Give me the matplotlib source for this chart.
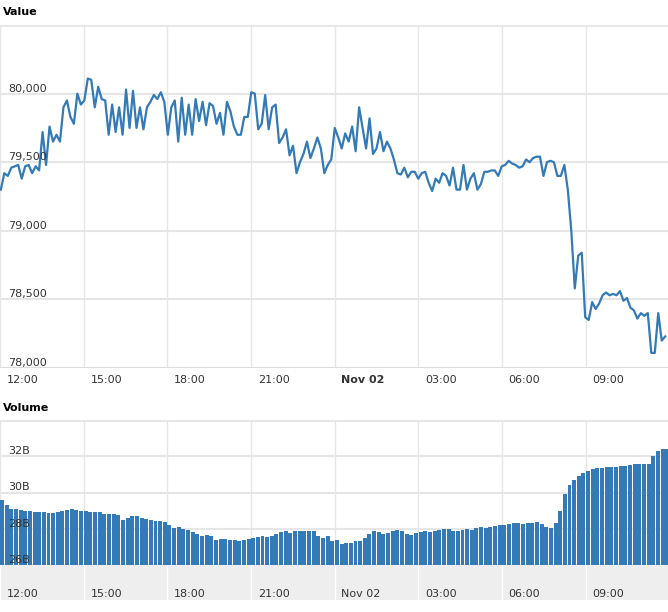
import matplotlib
matplotlib.use("Agg")
import matplotlib.pyplot as plt
import numpy as np

price = [79300,79420,79400,79460,79470,
 79480,79380,79470,79480,79420,79470,
 79440,79720,79480,79760,79650,79700,
 79650,79900,79950,79830,79780,80000,79920,
 79950,80110,80100,79900,80050,79960,79950,
 79700,79920,79720,79900,79700,80030,79750,80020,79750,79900,79740,79900,79940,79990,79960,80010,79940,
 79700,79900,79950,79650,79970,79700,79920,79700,79960,79800,79940,79770,79930,79910,79780,79860,79700,79940,79870,79760,79700,79700,79830,79830,
 80010,80000,79740,79780,79990,79740,79900,79920,79640,79680,79740,79550,79620,79420,79500,79560,79650,79530,79600,79680,79600,79420,79480,79520,
 79750,79680,79600,79710,79650,79760,79580,79900,79750,79600,79820,79560,79600,79720,79580,79650,79600,79520,79420,79410,79460,79390,79430,79430,
 79380,79420,79430,79350,79290,79380,79350,79420,79400,79330,79460,79300,79300,79480,79300,79380,79420,79300,79340,79430,79430,79440,79440,79400,
 79470,79480,79510,79490,79480,79460,79470,79520,79500,79530,79540,79540,79400,79500,79510,79500,79400,79400,79480,79300,79000,78580,78820,78840,
 78370,78350,78480,78430,78470,78530,78550,78530,78540,78530,78560,78490,78510,78440,78420,78360,78400,78380,78400,78110,78110,78400,78200,78230]

volume = [29.6,29.3,29.1,29.1,29.05,29.0, 29.0,28.95,28.9,28.9,28.85,28.85,
 28.9,29.0,29.05,29.1,29.05,29.0, 29.0,28.95,28.9,28.9,28.8,28.8,
 28.8,28.75,28.5,28.6,28.7,28.7, 28.6,28.55,28.5,28.45,28.45,28.4,
 28.2,28.05,28.1,28.0,27.95,27.8, 27.7,27.6,27.65,27.6,27.4,27.45,
 27.45,27.4,27.4,27.35,27.4,27.45, 27.5,27.55,27.6,27.55,27.6,27.7,
 27.8,27.85,27.75,27.9,27.9,27.85, 27.85,27.9,27.6,27.5,27.6,27.3,
 27.4,27.15,27.2,27.2,27.3,27.35, 27.5,27.7,27.85,27.8,27.7,27.75,
 27.85,27.95,27.9,27.7,27.65,27.75, 27.8,27.85,27.8,27.85,27.95,28.0,
 28.0,27.9,27.85,27.95,28.0,27.95, 28.05,28.1,28.05,28.1,28.15,28.2,
 28.2,28.25,28.3,28.3,28.25,28.3, 28.3,28.35,28.25,28.1,28.05,28.3,
 29.0,29.9,30.4,30.7,30.9,31.1, 31.2,31.3,31.35,31.35,31.4,31.4,
 31.4,31.45,31.45,31.5,31.55,31.6, 31.6,31.6,32.0,32.3,32.4,32.4]

tick_hours = [0, 3, 6, 9, 12, 15, 18, 21]
tick_labels = ["12:00", "15:00", "18:00", "21:00", "Nov 02", "03:00", "06:00", "09:00"]
value_ticks = [78000, 78500, 79000, 79500, 80000]
value_labels = ["78,000", "78,500", "79,000", "79,500", "80,000"]
vol_ticks = [26, 28, 30, 32]
vol_labels = ["26B", "28B", "30B", "32B"]

W, H = 668, 612
fig = plt.figure(figsize=(W/100, H/100), dpi=100)
blue = "#337ab7"
grid = "#e6e6e6"
xmax = 23.95

def ax_at(l, t, r, b):
    return fig.add_axes([l/W, 1-b/H, (r-l)/W, (b-t)/H])

ax1 = ax_at(0, 25, 668, 368)
t = np.linspace(0.03, 23.85, len(price))
ax1.plot(t, price, color=blue, lw=1.6)
ax1.set_xlim(0, xmax)
ax1.set_ylim(78000, 80500)

ax2 = ax_at(0, 420, 668, 565)
tv = np.linspace(0, 23.85, len(volume))
ax2.bar(tv, np.array(volume) - 26, bottom=26, width=(tv[1]-tv[0])*0.85, align="edge", color=blue)
ax2.set_xlim(0, xmax)
ax2.set_ylim(26, 34)

for ax, yt, yl in [(ax1, value_ticks, value_labels), (ax2, vol_ticks, vol_labels)]:
    for s in ax.spines.values():
        s.set_visible(False)
    ax.set_xticks([]); ax.set_yticks([])
    for h in tick_hours:
        ax.axvline(h, color=grid, lw=1, zorder=0)
    for v, lab in zip(yt, yl):
        ax.axhline(v, color=grid, lw=1.5, zorder=0)
        ax.text(0.3, v, lab, fontsize=8, color="#333333", va="bottom", ha="left", zorder=5)
    ax.axhline(ax.get_ylim()[1], color=grid, lw=2)
ax1.axhline(78000, color="#dddddd", lw=2)

for h, lab in zip(tick_hours, tick_labels):
    fig.text((h*27.85+7)/W, 1-380/H, lab, fontsize=8, color="#333333", va="center",
             fontweight="bold" if lab == "Nov 02" else "normal")
fig.text(3/W, 1-12/H, "Value", fontsize=8, fontweight="bold", va="center")
fig.text(3/W, 1-408/H, "Volume", fontsize=8, fontweight="bold", va="center")

nav = ax_at(0, 565, 668, 600)
nav.set_facecolor("#eeeeee")
nav.set_xlim(0, xmax); nav.set_ylim(0, 1)
nav.set_xticks([]); nav.set_yticks([])
for s in nav.spines.values():
    s.set_visible(False)
for h in tick_hours:
    nav.axvline(h, color="#ffffff", lw=1)
for h, lab in zip(tick_hours, tick_labels):
    fig.text((h*27.85+7)/W, 1-594/H, lab, fontsize=8, color="#333333", va="center")

fig.savefig("out.png", dpi=100)
